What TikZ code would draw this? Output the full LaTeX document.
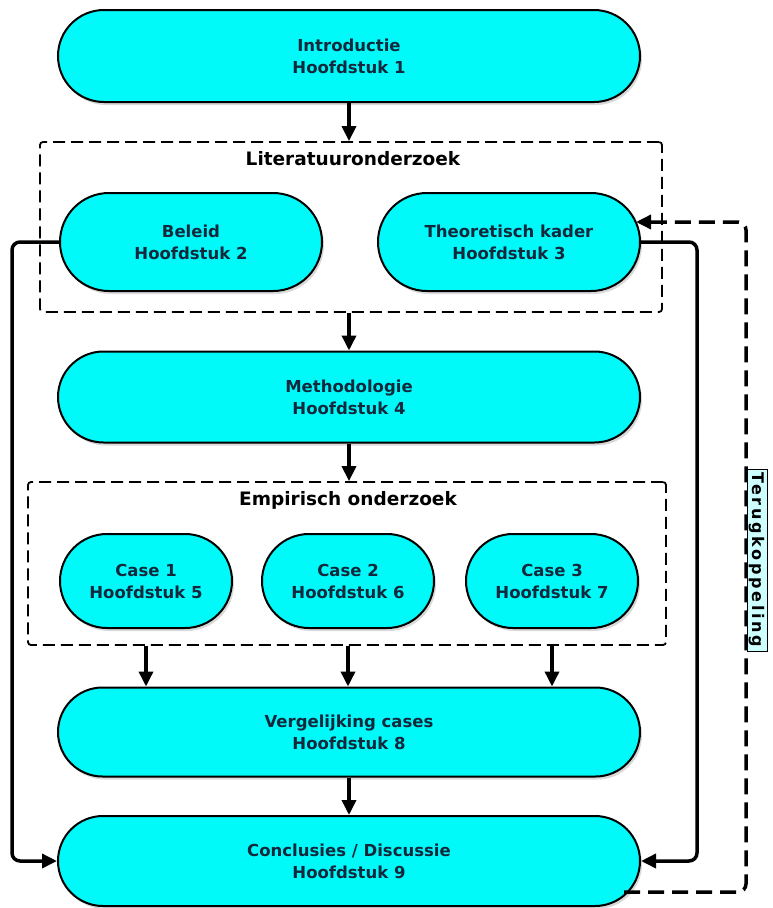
\documentclass[tikz,border=0pt]{standalone}
\usepackage{fontspec}
\setmainfont{DejaVu Sans}
\newfontfamily\sidefont{DejaVu Sans}[LetterSpace=17]
\usetikzlibrary{shapes.misc,arrows.meta,shadows}
\definecolor{boxcyan}{RGB}{0,250,250}
\definecolor{labelcyan}{RGB}{205,255,255}
\definecolor{inkblue}{RGB}{18,40,60}

\begin{document}
\begin{tikzpicture}[x=1pt,y=-1pt,
  stadium/.style={rounded rectangle, draw=black, line width=2pt, fill=boxcyan,
    text=inkblue, align=center, inner sep=0pt,
    font=\bfseries\fontsize{16.5}{22}\selectfont,
    drop shadow={opacity=0.3, shadow xshift=2pt, shadow yshift=-3pt}},
  groupbox/.style={draw=black, line width=1.8pt, dash pattern=on 12pt off 6pt,
    rounded corners=3pt, inner sep=0pt},
  grouptitle/.style={font=\bfseries\fontsize{18.5}{22}\selectfont, text=black},
  flow/.style={line width=3.5pt, -{Triangle[length=15pt,width=14pt]}},
  feedback/.style={line width=3.5pt, dash pattern=on 16pt off 8pt,
    rounded corners=8pt, -{Triangle[length=15pt,width=14pt]}},
  sidelabel/.style={draw=black, line width=1pt, fill=labelcyan, text=black,
    font=\sidefont\bfseries\fontsize{16}{19}\selectfont, inner xsep=3pt, inner ysep=2pt,
    minimum width=182pt}
]
\useasboundingbox (0,0) rectangle (773,908);

% dashed group frames
\node[groupbox, minimum width=622pt, minimum height=170pt] (lit) at (351,227) {};
\node[grouptitle] (littitle) at (353,159) {Literatuuronderzoek};
\node[groupbox, minimum width=638pt, minimum height=163pt] (emp) at (347,563.5) {};
\node[grouptitle] (emptitle) at (348,500) {Empirisch onderzoek};

% chapters
\node[stadium, minimum width=582pt, minimum height=92pt] (intro) at (349,56) {Introductie\\Hoofdstuk 1};
\node[stadium, minimum width=262pt, minimum height=98pt] (beleid) at (191,242) {Beleid\\Hoofdstuk 2};
\node[stadium, minimum width=262pt, minimum height=98pt] (theo) at (509,242) {Theoretisch kader\\Hoofdstuk 3};
\node[stadium, minimum width=582pt, minimum height=91pt] (meth) at (349,397) {Methodologie\\Hoofdstuk 4};
\node[stadium, minimum width=172pt, minimum height=94pt] (case1) at (146,581) {Case 1\\Hoofdstuk 5};
\node[stadium, minimum width=172pt, minimum height=94pt] (case2) at (348,581) {Case 2\\Hoofdstuk 6};
\node[stadium, minimum width=172pt, minimum height=94pt] (case3) at (552,581) {Case 3\\Hoofdstuk 7};
\node[stadium, minimum width=582pt, minimum height=89pt] (verg) at (349,732) {Vergelijking cases\\Hoofdstuk 8};
\node[stadium, minimum width=582pt, minimum height=90pt] (concl) at (349,861) {Conclusies / Discussie\\Hoofdstuk 9};

% main flow
\draw[flow] (intro.south) -- (intro.south |- lit.north);
\draw[flow] (meth.north |- lit.south) -- (meth.north);
\draw[flow] (meth.south) -- (meth.south |- emp.north);
\draw[flow] (case1.south |- emp.south) -- (case1.south |- verg.north);
\draw[flow] (case2.south |- emp.south) -- (case2.south |- verg.north);
\draw[flow] (case3.south |- emp.south) -- (case3.south |- verg.north);
\draw[flow] (verg.south) -- (concl.north);

% literature feeds directly into the conclusions
\coordinate (leftrail) at (12,242);
\coordinate (rightrail) at (697,242);
\draw[flow, rounded corners=8pt] (beleid.west) -- (leftrail) |- (concl.west);
\draw[flow, rounded corners=8pt] (theo.east) -- (rightrail) |- (concl.east);

% feedback loop
\coordinate (fbstart) at (624,892);
\coordinate (fbcorner) at (746,892);
\coordinate (fbtop) at (746,222);
\coordinate (fbend) at (636,222);
\draw[feedback] (fbstart) -- (fbcorner) -- (fbtop) -- (fbend);
\node[sidelabel, rotate=-90, anchor=south] (fblabel) at (747,560) {Terugkoppeling};
\end{tikzpicture}
\end{document}
